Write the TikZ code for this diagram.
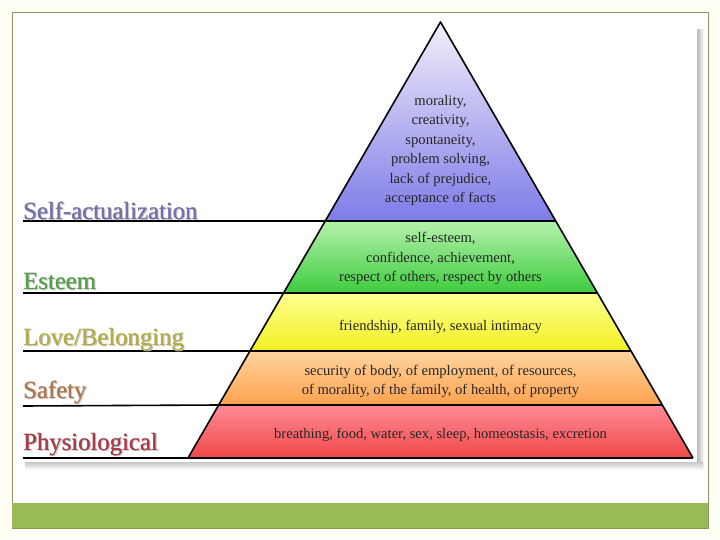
\documentclass[tikz,border=0pt]{standalone}
\usepackage{fontspec}
\setmainfont{Liberation Serif}
\definecolor{pagebg}{HTML}{FFFFF6}
\definecolor{frameol}{HTML}{8C9466}
\definecolor{barg}{HTML}{9BBB59}
\definecolor{bargdk}{HTML}{7F9A48}
\definecolor{cSelf}{HTML}{7470A8}
\definecolor{cEst}{HTML}{5A9E4E}
\definecolor{cLove}{HTML}{B3AC4A}
\definecolor{cSaf}{HTML}{AE7850}
\definecolor{cPhy}{HTML}{A63E4A}
\definecolor{pTop}{HTML}{F2EEFA}
\definecolor{pBot}{HTML}{7E7CE8}
\definecolor{gTop}{HTML}{B4F2AC}
\definecolor{gBot}{HTML}{3ECC3E}
\definecolor{yTop}{HTML}{FFFF90}
\definecolor{yBot}{HTML}{F2F020}
\definecolor{oTop}{HTML}{FFD49C}
\definecolor{oBot}{HTML}{FFA250}
\definecolor{rTop}{HTML}{FF8A96}
\definecolor{rBot}{HTML}{F04848}
\begin{document}
\begin{tikzpicture}[x=1pt,y=-1pt,
  lvltext/.style={font=\fontsize{14.6}{19.5}\selectfont, text=black!85, align=center, inner sep=0pt},
  lvllabel/.style={font=\fontsize{24.7}{28}\selectfont, anchor=base west, inner sep=0pt},
  pyredge/.style={line width=1.6pt, black, line join=round},
  sepline/.style={line width=1.6pt, black}
]
\useasboundingbox (0,0) rectangle (720,540);
% page background and frame
\fill[pagebg] (0,0) rectangle (720,540);
\draw[frameol, fill=white, line width=0.8pt] (12,12) rectangle (708,528);
% image shadow
\shade[left color=gray!55, right color=white] (697,30) rectangle (704,468);
\shade[top color=gray!45, bottom color=white] (25,462) rectangle (703,470);
% green bar
\fill[barg] (12,503) rectangle (708,528);
\draw[bargdk, line width=0.8pt] (12,528) -- (708,528);

% pyramid geometry
\coordinate (apex) at (440.5,22);
\coordinate (L1) at (325.3,221); \coordinate (R1) at (555.7,221);
\coordinate (L2) at (283.6,293); \coordinate (R2) at (597.4,293);
\coordinate (L3) at (250.0,351); \coordinate (R3) at (631.0,351);
\coordinate (L4) at (218.7,405); \coordinate (R4) at (662.3,405);
\coordinate (L5) at (188.0,458); \coordinate (R5) at (693.0,458);
\coordinate (S1) at (23,221);
\coordinate (S2) at (23,293);
\coordinate (S3) at (23,351);
\coordinate (S4) at (23,406);
\coordinate (S5) at (23,458);

% level fills
\shade[top color=pTop, bottom color=pBot] (apex) -- (R1) -- (L1) -- cycle;
\shade[top color=gTop, bottom color=gBot] (L1) -- (R1) -- (R2) -- (L2) -- cycle;
\shade[top color=yTop, bottom color=yBot] (L2) -- (R2) -- (R3) -- (L3) -- cycle;
\shade[top color=oTop, bottom color=oBot] (L3) -- (R3) -- (R4) -- (L4) -- cycle;
\shade[top color=rTop, bottom color=rBot] (L4) -- (R4) -- (R5) -- (L5) -- cycle;

% separator lines
\draw[sepline] (S1) -- (L1) -- (R1);
\draw[sepline] (S2) -- (L2) -- (R2);
\draw[sepline] (S3) -- (L3) -- (R3);
\draw[sepline] (S4) -- (L4) -- (R4);
\draw[sepline] (S5) -- (L5) -- (R5);
% outline
\draw[pyredge] (L5) -- (apex) -- (R5);

% level texts
\node[lvltext] (tself) at (440.5,150.7) {morality,\\creativity,\\spontaneity,\\problem solving,\\lack of prejudice,\\acceptance of facts};
\node[lvltext] (test) at (440.5,258.5) {self-esteem,\\confidence, achievement,\\respect of others, respect by others};
\node[lvltext, anchor=base] (tlove) at (440.5,330) {friendship, family, sexual intimacy};
\node[lvltext] (tsaf) at (440.5,381.5) {security of body, of employment, of resources,\\of morality, of the family, of health, of property};
\node[lvltext, anchor=base] (tphy) at (440.5,438.3) {breathing, food, water, sex, sleep, homeostasis, excretion};

% left labels (with soft shadow)
\foreach \nm/\yy/\cc/\tx in {lself/219/cSelf/Self-actualization, lest/289/cEst/Esteem, llove/345/cLove/Love\slash Belonging, lsaf/398/cSaf/Safety, lphy/450/cPhy/Physiological}{
  \node[lvllabel, text=gray!45] at (24.5,\yy+1.5) {\tx};
  \node[lvllabel, text=\cc] at (23.4,\yy+0.4) {\tx};
  \node[lvllabel, text=\cc] (\nm) at (23,\yy) {\tx};
}
\end{tikzpicture}
\end{document}
